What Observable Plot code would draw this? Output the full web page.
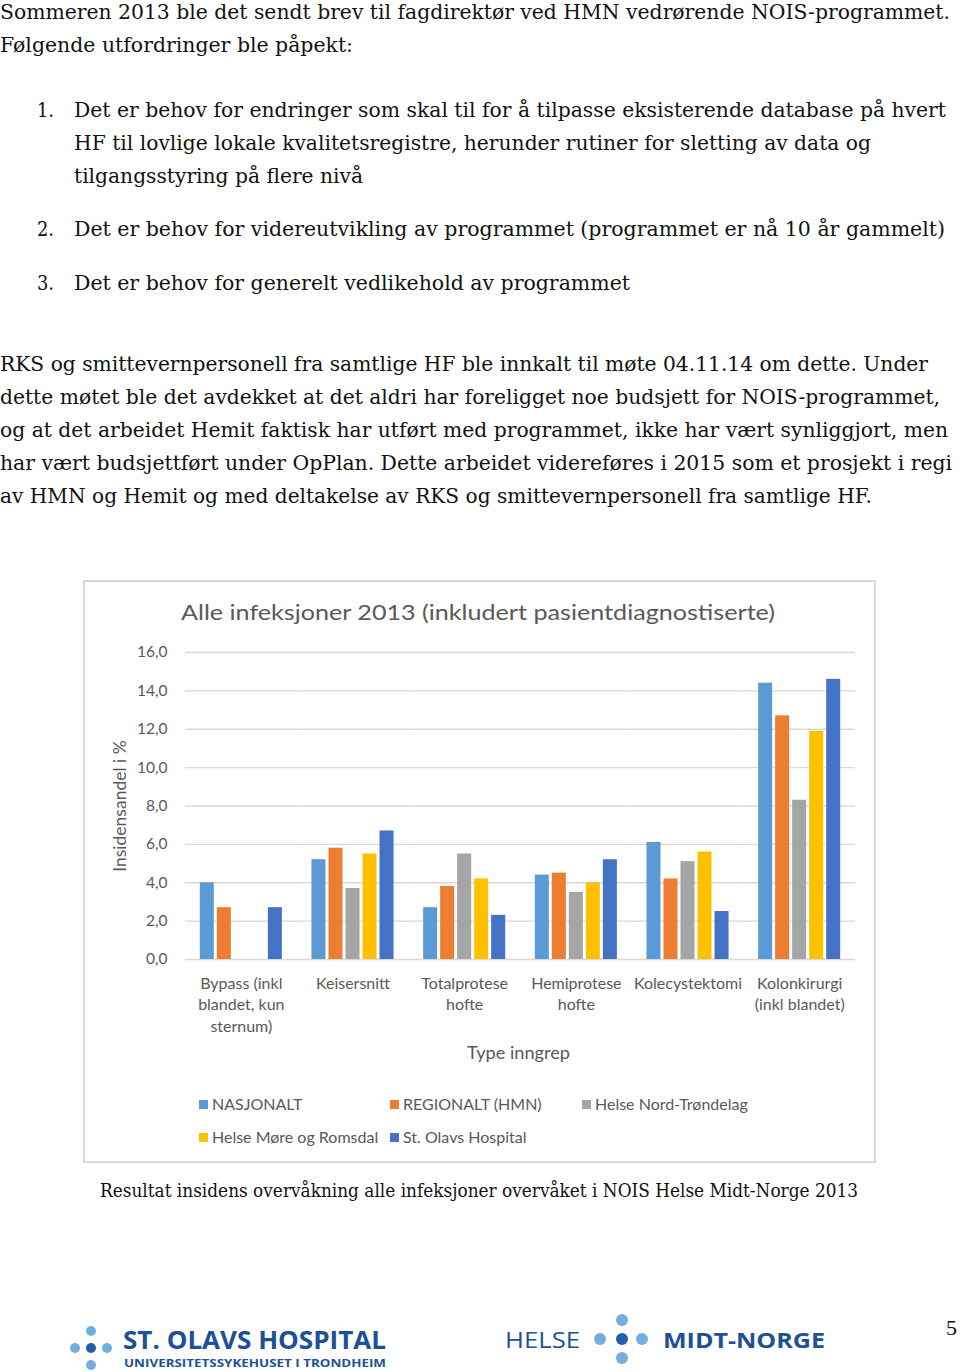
<!DOCTYPE html>
<html>
<head>
<meta charset="utf-8">
<script src="https://cdn.jsdelivr.net/npm/d3@7"></script>
<script src="https://cdn.jsdelivr.net/npm/@observablehq/plot@0.6"></script>
<style>
  html, body { margin: 0; padding: 0; background: #fff; }
  #page { position: relative; width: 960px; height: 1372px; overflow: hidden; }
  .ln { position: absolute; white-space: nowrap; font-family: "DejaVu Serif", serif; font-size: 20px; color: #111; line-height: 24px; transform-origin: 0 50%; }
  .sans { font-family: Lato, "Open Sans", sans-serif; color: #595959; }
  #box { position: absolute; left: 83px; top: 580px; width: 789px; height: 579px; border: 2px solid #d9d9d9; }
  #chart { position: absolute; left: 83px; top: 640px; }
  .lg { position: absolute; white-space: nowrap; font-family: Lato, sans-serif; font-size: 16px; color: #595959; line-height: 18px; }
  .sw { position: absolute; width: 9px; height: 9px; }
  .dot { position: absolute; border-radius: 50%; }
</style>
</head>
<body>
<div id="page">
  <div id="text"></div>
  <div id="box"></div>
  <div class="ln sans" id="title" style="left:181px; top:599px; font-size:22px; line-height:26px;" data-w="594">Alle infeksjoner 2013 (inkludert pasientdiagnostiserte)</div>
  <div id="chart"></div>
  <div class="ln sans" style="left:467px; top:1043px; font-size:17px; line-height:20px;" data-w="103">Type inngrep</div>
  <div id="legend"></div>
  <div class="ln" style="left:100px; top:1179px; font-size:18px; line-height:24px;" data-w="758">Resultat insidens overvåkning alle infeksjoner overvåket i NOIS Helse Midt-Norge 2013</div>

  <!-- footer logos -->
  <div class="dot" style="left:86px; top:1326px; width:10px; height:10px; background:#74aee0;"></div>
  <div class="dot" style="left:70px; top:1343px; width:10px; height:10px; background:#74aee0;"></div>
  <div class="dot" style="left:86px; top:1343px; width:10px; height:10px; background:#1f5ea8;"></div>
  <div class="dot" style="left:102px; top:1343px; width:10px; height:10px; background:#74aee0;"></div>
  <div class="dot" style="left:86px; top:1360px; width:10px; height:10px; background:#74aee0;"></div>
  <div class="ln" style="left:123px; top:1324px; font-family:'Open Sans',sans-serif; font-weight:700; font-size:25px; line-height:30px; color:#1d5096;" data-w="263">ST. OLAVS HOSPITAL</div>
  <div class="ln" style="left:124px; top:1356px; font-family:'Open Sans',sans-serif; font-weight:700; font-size:11px; line-height:13px; color:#1d5096;" data-w="262">UNIVERSITETSSYKEHUSET I TRONDHEIM</div>

  <div class="ln" style="left:505px; top:1326px; font-family:'Open Sans',sans-serif; font-weight:400; font-size:22px; line-height:26px; color:#1d5096;" data-w="75">HELSE</div>
  <div class="dot" style="left:616px; top:1314px; width:12px; height:12px; background:#74aee0;"></div>
  <div class="dot" style="left:594px; top:1333px; width:12px; height:12px; background:#74aee0;"></div>
  <div class="dot" style="left:616px; top:1333px; width:12px; height:12px; background:#1f5ea8;"></div>
  <div class="dot" style="left:636px; top:1333px; width:12px; height:12px; background:#74aee0;"></div>
  <div class="dot" style="left:616px; top:1352px; width:12px; height:12px; background:#74aee0;"></div>
  <div class="ln" style="left:663px; top:1326px; font-family:'Open Sans',sans-serif; font-weight:700; font-size:22px; line-height:26px; color:#1d5096;" data-w="162">MIDT-NORGE</div>
  <div class="ln" style="left:946px; top:1316px; font-family:'Liberation Serif',serif; font-size:22px; line-height:24px; color:#111;">5</div>
</div>
<script>
// ---- Data ----
const categories = ["Bypass", "Keisersnitt", "Totalprotese hofte", "Hemiprotese hofte", "Kolecystektomi", "Kolonkirurgi"];
const categoryLabels = ["Bypass (inkl\nblandet, kun\nsternum)", "Keisersnitt", "Totalprotese\nhofte", "Hemiprotese\nhofte", "Kolecystektomi", "Kolonkirurgi\n(inkl blandet)"];
const series = ["NASJONALT", "REGIONALT (HMN)", "Helse Nord-Trøndelag", "Helse Møre og Romsdal", "St. Olavs Hospital"];
const nasjonalt = [4.0, 5.2, 2.7, 4.4, 6.1, 14.4];
const regionalt = [2.7, 5.8, 3.8, 4.5, 4.2, 12.7];
const nordTrondelag = [null, 3.7, 5.5, 3.5, 5.1, 8.3];
const moreRomsdal = [null, 5.5, 4.2, 4.0, 5.6, 11.9];
const stOlavs = [2.7, 6.7, 2.3, 5.2, 2.5, 14.6];
const yTicks = [0, 2, 4, 6, 8, 10, 12, 14, 16];
const colors = ["#5b9bd5", "#ed7d31", "#a5a5a5", "#ffc000", "#4472c4"];
const yLabel = "Insidensandel i %";

const seriesValues = [nasjonalt, regionalt, nordTrondelag, moreRomsdal, stOlavs];
const data = [];
series.forEach((s, si) => categories.forEach((c, ci) => {
  data.push({cat: c, series: s, value: seriesValues[si][ci]});
}));

// ---- Body text ----
const textLines = [
  {x: 0, y: 12, w: 950, t: "Sommeren 2013 ble det sendt brev til fagdirektør ved HMN vedrørende NOIS-programmet."},
  {x: 0, y: 45, w: 353, t: "Følgende utfordringer ble påpekt:"},
  {x: 37, y: 110, w: 17, t: "1."},
  {x: 74, y: 110, w: 872, t: "Det er behov for endringer som skal til for å tilpasse eksisterende database på hvert"},
  {x: 74, y: 143, w: 797, t: "HF til lovlige lokale kvalitetsregistre, herunder rutiner for sletting av data og"},
  {x: 74, y: 176, w: 289, t: "tilgangsstyring på flere nivå"},
  {x: 37, y: 229, w: 17, t: "2."},
  {x: 74, y: 229, w: 871, t: "Det er behov for videreutvikling av programmet (programmet er nå 10 år gammelt)"},
  {x: 37, y: 283, w: 17, t: "3."},
  {x: 74, y: 283, w: 556, t: "Det er behov for generelt vedlikehold av programmet"},
  {x: 0, y: 364, w: 928, t: "RKS og smittevernpersonell fra samtlige HF ble innkalt til møte 04.11.14 om dette. Under"},
  {x: 0, y: 397, w: 940, t: "dette møtet ble det avdekket at det aldri har foreligget noe budsjett for NOIS-programmet,"},
  {x: 0, y: 430, w: 948, t: "og at det arbeidet Hemit faktisk har utført med programmet, ikke har vært synliggjort, men"},
  {x: 0, y: 463, w: 952, t: "har vært budsjettført under OpPlan. Dette arbeidet videreføres i 2015 som et prosjekt i regi"},
  {x: 0, y: 496, w: 872, t: "av HMN og Hemit og med deltakelse av RKS og smittevernpersonell fra samtlige HF."}
];
const textDiv = document.getElementById("text");
textLines.forEach(l => {
  const d = document.createElement("div");
  d.className = "ln";
  d.style.left = l.x + "px";
  d.style.top = (l.y - 12) + "px";
  d.dataset.w = l.w;
  d.textContent = l.t;
  textDiv.appendChild(d);
});

// ---- Chart ----
const chart = Plot.plot({
  width: 793,
  height: 400,
  marginLeft: 102,
  marginRight: 21,
  marginTop: 12,
  marginBottom: 81,
  style: {fontFamily: "Lato, sans-serif", fontSize: "15.5px", color: "#595959", background: "transparent", overflow: "visible"},
  fx: {domain: categories, padding: 0, round: false, axis: null},
  x: {domain: series, paddingInner: 0.176, paddingOuter: 0.87, round: false, axis: null},
  y: {domain: [0, 16], ticks: yTicks, tickFormat: d => d.toFixed(1).replace(".", ","), tickSize: 0, tickPadding: 18, label: null},
  color: {domain: series, range: colors},
  marks: [
    Plot.ruleY(yTicks, {stroke: "#d9d9d9", strokeWidth: 1.3}),
    Plot.barY(data, {fx: "cat", x: "series", y: "value", fill: "series"}),
    Plot.text(categories, {fx: d => d, text: (d, i) => categoryLabels[i], frameAnchor: "bottom", lineAnchor: "top", dy: 14, lineHeight: 1.35, fill: "#595959", fontSize: 16}),
    Plot.text([yLabel], {fx: () => categories[0], frameAnchor: "left", textAnchor: "middle", rotate: -90, dx: -65, fill: "#595959", fontSize: 17.5})
  ]
});
document.getElementById("chart").appendChild(chart);

// ---- Legend ----
const legendPos = [
  {x: 199, y: 1104}, {x: 390, y: 1104}, {x: 582, y: 1104},
  {x: 199, y: 1137}, {x: 390, y: 1137}
];
const legendDiv = document.getElementById("legend");
series.forEach((s, i) => {
  const p = legendPos[i];
  const sw = document.createElement("div");
  sw.className = "sw";
  sw.style.left = p.x + "px";
  sw.style.top = (p.y - 4) + "px";
  sw.style.background = colors[i];
  legendDiv.appendChild(sw);
  const t = document.createElement("div");
  t.className = "lg";
  t.style.left = (p.x + 13) + "px";
  t.style.top = (p.y - 9) + "px";
  t.textContent = s;
  legendDiv.appendChild(t);
});

// ---- fit text widths ----
document.querySelectorAll("[data-w]").forEach(el => {
  const w = el.getBoundingClientRect().width;
  const target = +el.dataset.w;
  if (w > 0) el.style.transform = `scaleX(${target / w})`;
});
</script>
</body>
</html>
